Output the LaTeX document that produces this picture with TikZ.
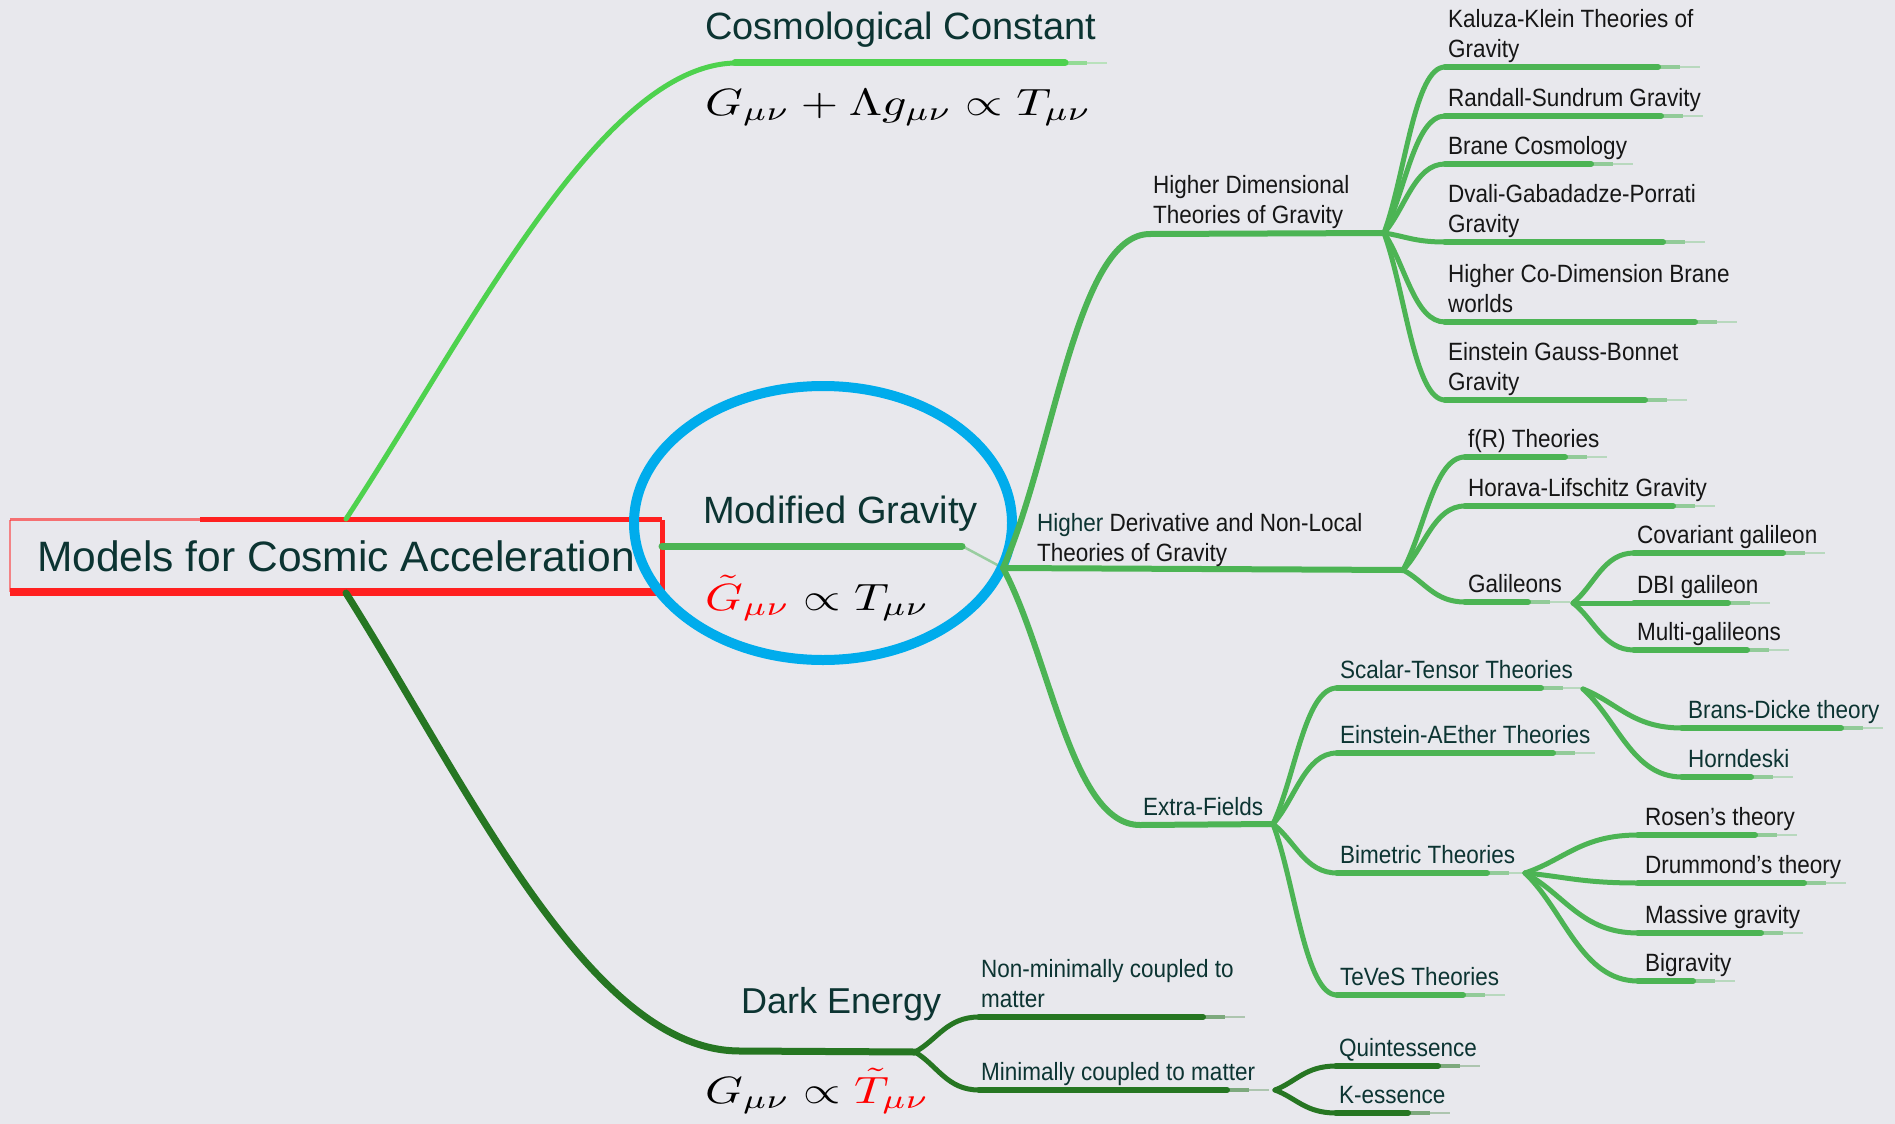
\documentclass[tikz,border=0pt]{standalone}
\usepackage{fontspec}
\usepackage{graphicx}
\setmainfont{Liberation Sans}
\newfontfamily\labfont{Liberation Sans}[FakeStretch=0.9]
\usetikzlibrary{calc,shapes.geometric}
\definecolor{bgc}{RGB}{232,232,237}
\definecolor{tealtxt}{RGB}{12,52,50}
\definecolor{blacktxt}{RGB}{22,22,22}
\definecolor{ccgreen}{RGB}{78,210,78}
\definecolor{mggreen}{RGB}{76,180,84}
\definecolor{degreen}{RGB}{38,118,34}
\definecolor{boxred}{RGB}{255,32,32}
\definecolor{ringblue}{RGB}{0,172,236}
\newcommand\mmbranch[3][]{\draw[fanline,#1] (#2) .. controls ($(#2)!0.35!(#3)$) and ($(#3)!0.5!(#3 -| #2)$) .. (#3);}
\newcommand\mmuline[3][]{%
  \draw[uline,#1,line width=2.5,opacity=0.3,line cap=butt] ($(#2)+(#3-20,0)$) -- ++(20,0);
  \draw[uline,#1,line width=4.5,opacity=0.55,line cap=butt] ($(#2)+(#3-42,0)$) -- ++(22,0);
  \draw[uline,#1] (#2) -- ++(#3-42,0);}
\begin{document}
\begin{tikzpicture}[x=1pt,y=-1pt,
  big/.style={font=\fontsize{38}{44}\selectfont, text=tealtxt, inner sep=0, anchor=base west},
  lab/.style={font=\labfont\fontsize{25}{30.5}\selectfont, inner sep=0, anchor=south west, align=left},
  mainline/.style={line width=7, line cap=round},
  subline/.style={draw=mggreen, line width=6, line cap=round},
  fanline/.style={draw=mggreen, line width=5, line cap=round},
  uline/.style={draw=mggreen, line width=6, line cap=round},
  formula/.style={anchor=base west, inner sep=0}]
\fill[bgc] (0,0) rectangle (1895,1124);
\useasboundingbox (0,0) rectangle (1895,1124);

% ---------- root ----------
\node[minimum width=652, minimum height=72, inner sep=0,
  font=\fontsize{42.5}{50}\selectfont, text=tealtxt] (root) at (336,556) {Models for Cosmic Acceleration};
\draw[boxred, line width=1.5, opacity=0.5] (root.north west) -- (root.south west);
\draw[boxred, line width=3, opacity=0.6] (root.north west) -- ($(root.north west)+(190,0)$);
\draw[boxred, line width=5] ($(root.north west)+(190,0)$) -- (root.north east);
\draw[boxred, line width=5] (root.north east) -- (root.south east);
\draw[boxred, line width=8] (root.south west) -- (root.south east);

% ---------- cosmological constant ----------
\coordinate (cc-s) at (346,519);
\coordinate (cc-u) at (735,63);
\draw[mainline, ccgreen, line width=5] (cc-s) .. controls (470,330) and (600,66) .. (cc-u);
\mmuline[draw=ccgreen, line width=7]{cc-u}{372}
\node[big] (cc) at (705,40) {Cosmological Constant};
\node[formula] (ccf) at (705,115) {\scalebox{4.8}[3.8]{$G_{\mu\nu}+\Lambda g_{\mu\nu}\propto T_{\mu\nu}$}};

% ---------- modified gravity ----------
\coordinate (mg-s) at (662,546);
\coordinate (mg-e) at (962,546);
\coordinate (mg-f) at (1003,568);
\draw[mainline, mggreen] (mg-s) -- (mg-e);
\draw[mggreen, line width=2.5, opacity=0.5] (mg-e) -- (mg-f);
\node[big] (mg) at (703,523) {Modified Gravity};
\node[formula] (mgf) at (705,610) {\scalebox{4.8}[3.8]{$\color{red}\tilde G_{\mu\nu}\color{black}\propto T_{\mu\nu}$}};
\coordinate (ring) at (823,523);
\draw[ringblue, line width=10] (ring) ellipse [x radius=189, y radius=137];

% higher dimensional
\coordinate (hd-u) at (1150,234);
\coordinate (hd-f) at (1384,233);
\mmbranch[line width=6]{mg-f}{hd-u}
\draw[subline] (hd-u) -- (hd-f);
\node[lab, text=blacktxt] (hd) at (1153,233) {Higher Dimensional\\Theories of Gravity\strut};
\foreach \nm/\yy/\len/\txt in {kk/67/255/{Kaluza-Klein Theories of\\Gravity},
  rs/116/258/{Randall-Sundrum Gravity}, bc/164/188/{Brane Cosmology},
  dgp/242/260/{Dvali-Gabadadze-Porrati\\Gravity}, hcd/322/292/{Higher Co-Dimension Brane\\worlds},
  egb/400/242/{Einstein Gauss-Bonnet\\Gravity}}{
  \coordinate (\nm-u) at (1445,\yy);
  \mmbranch{hd-f}{\nm-u}
  \mmuline{\nm-u}{\len}
  \node[lab, text=blacktxt] (\nm) at (1448,\yy) {\txt\strut};
}

% higher derivative
\coordinate (hder-f) at (1403,570);
\draw[subline] (mg-f) -- (hder-f);
\node[lab, text=blacktxt] (hder) at (1037,571) {{\color{tealtxt}Higher} Derivative and Non-Local\\Theories of Gravity\strut};
\foreach \nm/\yy/\len/\txt in {fr/457/142/{f(R) Theories},
  hl/506/250/{Horava-Lifschitz Gravity}, gal/602/105/{Galileons}}{
  \coordinate (\nm-u) at (1465,\yy);
  \mmbranch{hder-f}{\nm-u}
  \mmuline{\nm-u}{\len}
  \node[lab, text=blacktxt] (\nm) at (1468,\yy) {\txt\strut};
}
\coordinate (gal-f) at (1573,603);
\foreach \nm/\yy/\len/\txt in {cov/553/191/{Covariant galileon},
  dbi/603/136/{DBI galileon}, mul/650/155/{Multi-galileons}}{
  \coordinate (\nm-u) at (1634,\yy);
  \mmbranch{gal-f}{\nm-u}
  \mmuline{\nm-u}{\len}
  \node[lab, text=blacktxt] (\nm) at (1637,\yy) {\txt\strut};
}

% extra fields
\coordinate (ef-u) at (1140,825);
\coordinate (ef-f) at (1273,824);
\mmbranch[line width=6]{mg-f}{ef-u}
\draw[subline] (ef-u) -- (ef-f);
\node[lab, text=tealtxt] (ef) at (1143,825) {Extra-Fields\strut};
\foreach \nm/\yy/\len/\txt in {st/688/246/{Scalar-Tensor Theories},
  ae/753/258/{Einstein-AEther Theories}, bi/873/192/{Bimetric Theories},
  tv/995/168/{TeVeS Theories}}{
  \coordinate (\nm-u) at (1337,\yy);
  \mmbranch{ef-f}{\nm-u}
  \mmuline{\nm-u}{\len}
  \node[lab, text=tealtxt] (\nm) at (1340,\yy) {\txt\strut};
}
\coordinate (st-f) at (1583,689);
\foreach \nm/\yy/\len/\txt in {bd/728/201/{Brans-Dicke theory},
  hor/777/111/{Horndeski}}{
  \coordinate (\nm-u) at (1682,\yy);
  \mmbranch{st-f}{\nm-u}
  \mmuline{\nm-u}{\len}
  \node[lab, text=tealtxt] (\nm) at (1688,\yy) {\txt\strut};
}
\coordinate (bi-f) at (1525,873);
\foreach \nm/\yy/\len/\txt in {ros/835/159/{Rosen’s theory},
  dru/883/208/{Drummond’s theory}, mas/933/165/{Massive gravity},
  bgr/981/97/{Bigravity}}{
  \coordinate (\nm-u) at (1638,\yy);
  \mmbranch{bi-f}{\nm-u}
  \mmuline{\nm-u}{\len}
  \node[lab, text=blacktxt] (\nm) at (1645,\yy) {\txt\strut};
}

% ---------- dark energy ----------
\coordinate (de-s) at (346,593);
\coordinate (de-u) at (740,1051);
\coordinate (de-f) at (915,1052);
\draw[mainline, degreen] (de-s) .. controls (470,790) and (590,1051) .. (de-u) -- (de-f);
\node[big, font=\fontsize{36}{42}\selectfont] (de) at (741,1013) {Dark Energy};
\node[formula] (def) at (705,1103) {\scalebox{4.8}[3.8]{$G_{\mu\nu}\propto{\color{red}\tilde T_{\mu\nu}}$}};
\foreach \nm/\yy/\len/\txt in {nmc/1017/266/{Non-minimally coupled to\\matter},
  mc/1090/290/{Minimally coupled to matter}}{
  \coordinate (\nm-u) at (979,\yy);
  \mmbranch[draw=degreen]{de-f}{\nm-u}
  \mmuline[draw=degreen]{\nm-u}{\len}
  \node[lab, text=tealtxt] (\nm) at (981,\yy) {\txt\strut};
}
\coordinate (mc-f) at (1275,1090);
\foreach \nm/\yy/\len/\txt in {qui/1066/144/{Quintessence},
  kes/1113/114/{K-essence}}{
  \coordinate (\nm-u) at (1336,\yy);
  \mmbranch[draw=degreen]{mc-f}{\nm-u}
  \mmuline[draw=degreen]{\nm-u}{\len}
  \node[lab, text=tealtxt] (\nm) at (1339,\yy) {\txt\strut};
}
\end{tikzpicture}
\end{document}
